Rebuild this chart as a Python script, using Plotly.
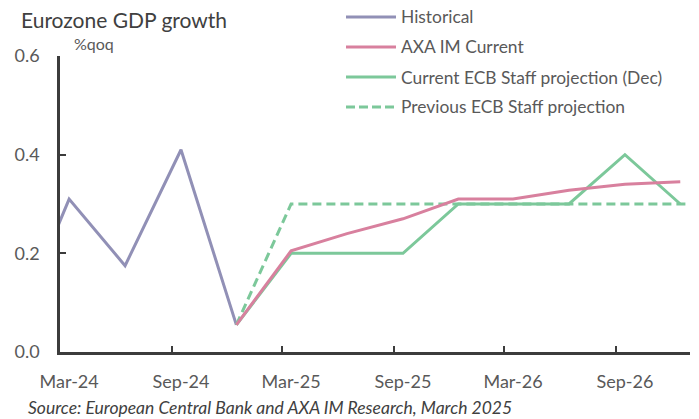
import pandas as pd
import plotly.graph_objects as go

# Quarter-end months (data points sit in the middle of each month)
quarters = ["Dec-23", "Mar-24", "Jun-24", "Sep-24", "Dec-24", "Mar-25", "Jun-25",
            "Sep-25", "Dec-25", "Mar-26", "Jun-26", "Sep-26", "Dec-26", "Mar-27"]

# Eurozone GDP growth, %qoq
historical = [0.04, 0.31, 0.175, 0.41, 0.055]                       # Dec-23 .. Dec-24
axa_current = [0.055, 0.205, 0.24, 0.27, 0.31, 0.31, 0.328, 0.34, 0.345]   # Dec-24 .. Dec-26
ecb_current = [0.055, 0.20, 0.20, 0.20, 0.30, 0.30, 0.30, 0.40, 0.30]    # Dec-24 .. Dec-26
ecb_previous = [0.055, 0.30, 0.30, 0.30, 0.30, 0.30, 0.30, 0.30, 0.30, 0.30]  # Dec-24 .. Mar-27

tick_labels = ["Mar-24", "Sep-24", "Mar-25", "Sep-25", "Mar-26", "Sep-26"]
tick_marks = ["2024-09-01", "2025-03-01", "2025-09-01", "2026-03-01", "2026-09-01"]
y_ticks = [0.0, 0.2, 0.4, 0.6]


def mid_month(label):
    p = pd.Period(pd.to_datetime(label, format="%b-%y"), freq="M")
    return (p.start_time + pd.Timedelta(days=15)).strftime("%Y-%m-%d")


dates = [mid_month(q) for q in quarters]
i_dec24 = quarters.index("Dec-24")

PURPLE = "#9190b6"
PINK = "#d8809e"
GREEN = "#7cc89a"
TXT = "#595959"
FONT = "Lato"

W, H = 699, 419
L, R, T, B = 60, 9, 56, 67
PW, PH = W - L - R, H - T - B


def px_x(px):
    return (px - L) / PW


def px_y(py):
    return (H - B - py) / PH


fig = go.Figure()
fig.add_trace(go.Scatter(x=dates[:len(historical)], y=historical, mode="lines",
                         name="Historical", line=dict(color=PURPLE, width=3)))
fig.add_trace(go.Scatter(x=dates[i_dec24:i_dec24 + len(ecb_previous)], y=ecb_previous,
                         mode="lines", name="Previous ECB Staff projection",
                         line=dict(color=GREEN, width=3, dash="9px,5px")))
fig.add_trace(go.Scatter(x=dates[i_dec24:i_dec24 + len(ecb_current)], y=ecb_current,
                         mode="lines", name="Current ECB Staff projection (Dec)",
                         line=dict(color=GREEN, width=3)))
fig.add_trace(go.Scatter(x=dates[i_dec24:i_dec24 + len(axa_current)], y=axa_current,
                         mode="lines", name="AXA IM Current",
                         line=dict(color=PINK, width=3)))

fig.update_xaxes(
    type="date",
    range=["2024-03-01", "2027-01-01"],
    tickmode="array",
    tickvals=[mid_month(t) for t in tick_labels],
    ticktext=tick_labels,
    ticks="", showgrid=False, zeroline=False,
    showline=True, linecolor="#3c3c3c", linewidth=2.5,
    tickfont=dict(family=FONT, size=18, color=TXT),
    ticklabelstandoff=12,
    minor=dict(tickmode="array", tickvals=tick_marks, ticks="inside",
               ticklen=6, tickwidth=2, tickcolor="#3c3c3c", showgrid=False),
)
fig.update_yaxes(
    range=[0, 0.6],
    tickmode="array",
    tickvals=y_ticks,
    ticktext=[f"{v:.1f}" for v in y_ticks],
    ticks="inside", ticklen=6, tickwidth=2, tickcolor="#3c3c3c",
    showgrid=False, zeroline=False,
    showline=True, linecolor="#3c3c3c", linewidth=2.5,
    tickfont=dict(family=FONT, size=18, color=TXT),
    ticklabelstandoff=14,
)

annotations = [
    dict(text="Eurozone GDP growth", x=px_x(19), y=px_y(20), xanchor="left", yanchor="middle",
         font=dict(family=FONT, size=21, color="#404040")),
    dict(text="%qoq", x=px_x(72), y=px_y(44), xanchor="left", yanchor="middle",
         font=dict(family=FONT, size=16, color=TXT)),
    dict(text="<i>Source: European Central Bank and AXA IM Research, March 2025</i>",
         x=px_x(26), y=px_y(407), xanchor="left", yanchor="middle",
         font=dict(family=FONT, size=17.5, color="#404040")),
]

# Legend drawn as line samples with labels
legend_rows = [
    ("Historical", PURPLE, "solid"),
    ("AXA IM Current", PINK, "solid"),
    ("Current ECB Staff projection (Dec)", GREEN, "solid"),
    ("Previous ECB Staff projection", GREEN, "9px,4px"),
]
shapes = []
for k, (name, color, dash) in enumerate(legend_rows):
    yy = 17 + 30 * k
    shapes.append(dict(type="line", xref="paper", yref="paper",
                       x0=px_x(346), x1=px_x(396), y0=px_y(yy), y1=px_y(yy),
                       line=dict(color=color, width=3, dash=dash)))
    annotations.append(dict(text=name, x=px_x(399), y=px_y(yy), xanchor="left",
                            yanchor="middle",
                            font=dict(family=FONT, size=17.4, color=TXT)))

for a in annotations:
    a.update(xref="paper", yref="paper", showarrow=False)

fig.update_layout(
    width=W, height=H,
    margin=dict(l=L, r=R, t=T, b=B),
    plot_bgcolor="white", paper_bgcolor="white",
    showlegend=False,
    annotations=annotations,
    shapes=shapes,
)

fig.write_html("out.html")
